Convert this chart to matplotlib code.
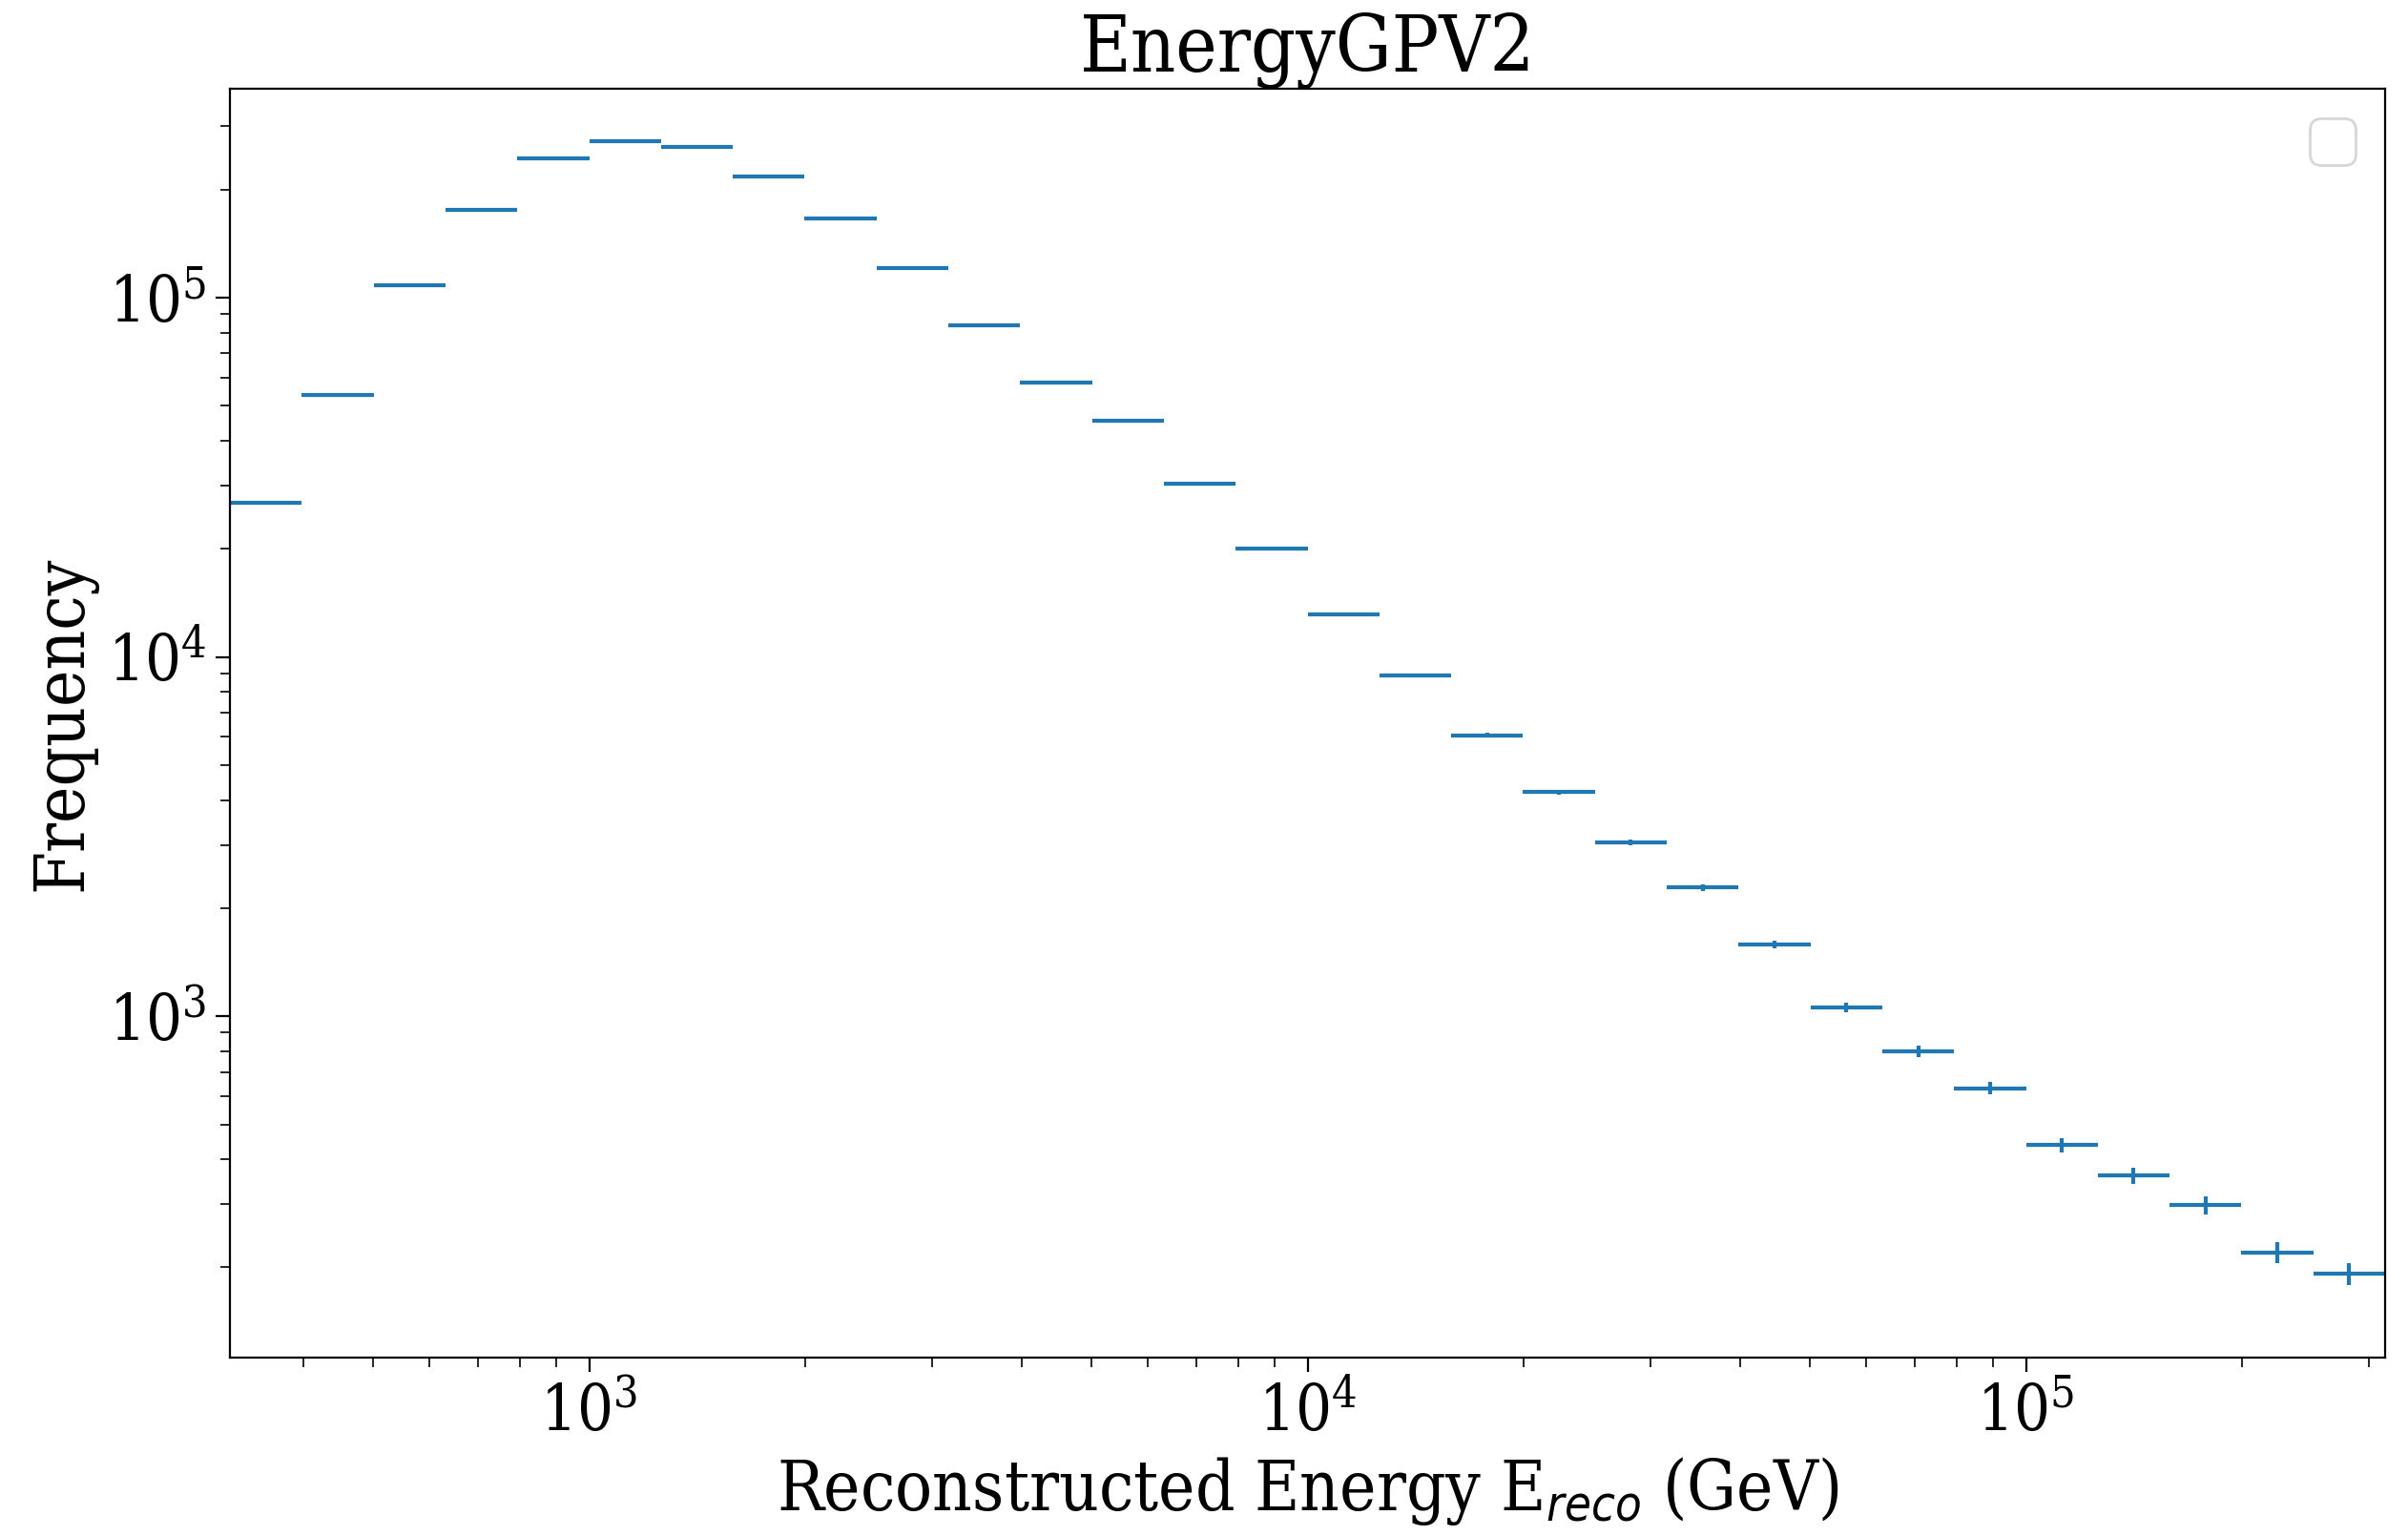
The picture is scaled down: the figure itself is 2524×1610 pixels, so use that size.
import numpy as np
import matplotlib
matplotlib.use('Agg')
import matplotlib.pyplot as plt

# bin edges of reconstructed energy (GeV), 10 bins per decade
log_edges = [2.5, 2.6, 2.7, 2.8, 2.9, 3.0, 3.1, 3.2, 3.3, 3.4, 3.5,
             3.6, 3.7, 3.8, 3.9, 4.0, 4.1, 4.2, 4.3, 4.4, 4.5,
             4.6, 4.7, 4.8, 4.9, 5.0, 5.1, 5.2, 5.3, 5.4, 5.5]

# counts per bin
counts = [26800, 53800, 108200, 175300, 244900, 272900, 262400, 217800, 166700, 120600,
          83800, 58200, 45500, 30400, 20100, 13180, 8890, 6060, 4210, 3040,
          2285, 1588, 1061, 798, 630, 438, 360, 298, 220, 192]

# statistical errors
errors = [164, 232, 329, 419, 495, 522, 512, 467, 408, 347,
          289, 241, 213, 174, 142, 115, 94, 78, 65, 55,
          48, 40, 33, 28, 25, 21, 19, 17, 15, 14]

plt.rcParams['font.family'] = 'DejaVu Serif'
plt.rcParams['font.stretch'] = 'condensed'
plt.rcParams['font.size'] = 24

edges = 10 ** np.array(log_edges)
centers = np.sqrt(edges[:-1] * edges[1:])
xerr = [centers - edges[:-1], edges[1:] - centers]

fig, ax = plt.subplots(figsize=(12.62, 8.05), dpi=200)
ax.errorbar(centers, counts, xerr=xerr, yerr=errors, fmt='none', color='#1f77b4', lw=1.5)
ax.set_xscale('log')
ax.set_yscale('log')
ax.set_xlim(edges[0], edges[-1])
ax.set_ylim(112, 381000)

ax.set_title('EnergyGPV2', fontsize=29.5, pad=6)
ax.set_xlabel('Reconstructed Energy E$_{reco}$ (GeV)', fontsize=26)
ax.set_ylabel('Frequency', fontsize=26)
ax.tick_params(which='major', length=5.5)
ax.tick_params(which='minor', length=3.5)
ax.legend(fontsize=22)

plt.subplots_adjust(left=0.0955, right=0.9905, top=0.942, bottom=0.116)
plt.savefig('out.png', dpi=200)
plt.close()
